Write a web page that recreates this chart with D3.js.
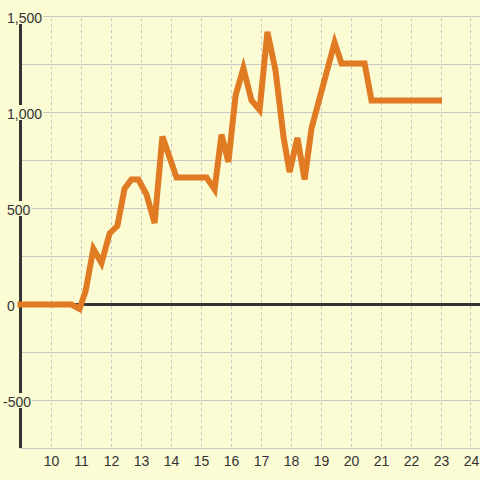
<!DOCTYPE html>
<html>
<head>
<meta charset="utf-8">
<script src="https://cdn.jsdelivr.net/npm/d3@7"></script>
<style>
  html, body { margin: 0; padding: 0; background: #fbfbd4; }
  svg { display: block; }
  text { font-family: "Liberation Sans", Arial, sans-serif; }
</style>
</head>
<body>
<svg id="chart" width="480" height="480"></svg>
<script>
const hours = [9, 10.7, 10.97, 11.17, 11.43, 11.7, 11.97, 12.23, 12.47, 12.7, 12.93, 13.2, 13.47, 13.73, 14.2, 15.2, 15.47, 15.7, 15.93, 16.17, 16.43, 16.7, 16.97, 17.23, 17.5, 17.77, 17.97, 18.23, 18.47, 18.7, 19.47, 19.7, 20.47, 20.7, 22.95];
const values = [0, 0, -23, 70, 290, 216, 370, 410, 604, 651, 651, 573, 424, 875, 662, 662, 599, 885, 742, 1089, 1230, 1063, 1013, 1420, 1219, 870, 690, 868, 651, 917, 1365, 1255, 1255, 1063, 1063];
const xTicks = [10, 11, 12, 13, 14, 15, 16, 17, 18, 19, 20, 21, 22, 23, 24];
const yGrid = [1500, 1250, 1000, 750, 500, 250, -250, -500, -750];
const yLabels = [1500, 1000, 500, 0, -500];

const bg = "#fbfbd4";
const svg = d3.select("#chart");
const x = d3.scaleLinear().domain([9, 24.3]).range([20.5, 479.5]);
const y = d3.scaleLinear().domain([-750, 1500]).range([448, 16]);

svg.append("rect").attr("width", 480).attr("height", 480).attr("fill", bg);

// horizontal gridlines
svg.append("g").selectAll("line").data(yGrid).join("line")
  .attr("x1", x(9)).attr("x2", 480)
  .attr("y1", d => Math.round(y(d)) + 0.5).attr("y2", d => Math.round(y(d)) + 0.5)
  .attr("stroke", "#c8c8c8").attr("stroke-width", 1);

// vertical dashed gridlines
svg.append("g").selectAll("line").data(xTicks).join("line")
  .attr("x1", d => Math.round(x(d)) + 0.5).attr("x2", d => Math.round(x(d)) + 0.5)
  .attr("y1", y(1500) + 2).attr("y2", y(-750))
  .attr("stroke", "#c8c8c8").attr("stroke-width", 1).attr("stroke-dasharray", "3,3");

// zero line
svg.append("line")
  .attr("x1", x(9)).attr("x2", 480)
  .attr("y1", y(0) + 0.5).attr("y2", y(0) + 0.5)
  .attr("stroke", "#333").attr("stroke-width", 3);

// y axis line
svg.append("line")
  .attr("x1", x(9)).attr("x2", x(9))
  .attr("y1", y(1500)).attr("y2", y(-750))
  .attr("stroke", "#333").attr("stroke-width", 3);

// series
const line = d3.line().x((d, i) => x(hours[i])).y(d => y(d) + 0.5);
svg.append("path")
  .attr("d", line(values))
  .attr("fill", "none")
  .attr("stroke", "#e07b24")
  .attr("stroke-width", 6)
  .attr("stroke-linejoin", "miter")
  .attr("stroke-linecap", "square");

// x labels
svg.append("g").selectAll("text").data(xTicks).join("text")
  .attr("x", d => x(d) + 1)
  .attr("y", 466)
  .attr("text-anchor", "middle")
  .attr("font-size", 14)
  .attr("fill", "#333")
  .text(d => d);

// y labels with background
const fmt = v => d3.format(",")(v).replace("\u2212", "-");
const yl = svg.append("g").selectAll("g").data(yLabels).join("g");
yl.each(function(d) {
  const g = d3.select(this);
  const t = g.append("text")
    .attr("x", d < 0 ? 3 : 7)
    .attr("y", y(d) + 6.5)
    .attr("font-size", 14)
    .attr("fill", "#333")
    .text(fmt(d));
  const b = t.node().getBBox();
  g.insert("rect", "text")
    .attr("x", b.x - 1).attr("y", y(d) - 7)
    .attr("width", b.width + 2).attr("height", 15)
    .attr("fill", bg);
});
</script>
</body>
</html>
